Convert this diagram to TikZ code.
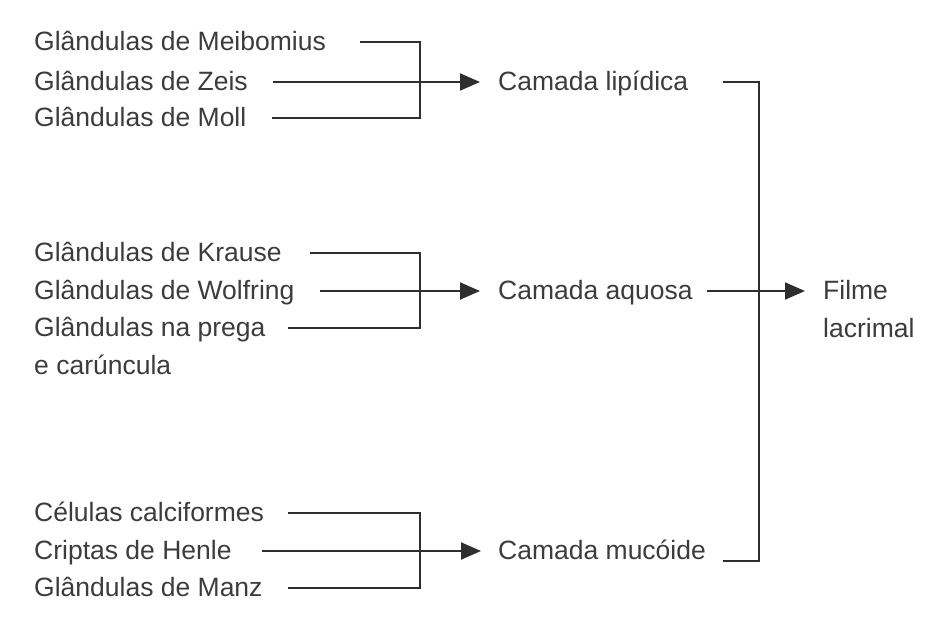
\documentclass[tikz,border=0pt]{standalone}
\usepackage{fontspec}
\setmainfont{Liberation Sans}
\usetikzlibrary{arrows.meta}
\definecolor{txt}{HTML}{3C3C3C}
\definecolor{ink}{HTML}{2E2E2E}
\tikzset{
  lbl/.style={anchor=base west, inner sep=0pt, text=txt, font=\fontsize{26.5}{32}\selectfont},
  ln/.style={draw=ink, line width=2pt},
  arr/.style={ln, -{Triangle[length=20pt,width=17pt]}}
}
\begin{document}
\begin{tikzpicture}[x=1pt,y=-1pt]
\useasboundingbox (0,0) rectangle (940,621);
% sources (baselines)
\node[lbl] (mei) at (34,50) {Glândulas de Meibomius};
\node[lbl] (zei) at (34,90) {Glândulas de Zeis};
\node[lbl] (mol) at (34,126) {Glândulas de Moll};
\node[lbl] (kra) at (34,261) {Glândulas de Krause};
\node[lbl] (wol) at (34,299) {Glândulas de Wolfring};
\node[lbl] (pre) at (34,336) {Glândulas na prega};
\node[lbl] (car) at (34,374) {e carúncula};
\node[lbl] (cel) at (34,521) {Células calciformes};
\node[lbl] (cri) at (34,559) {Criptas de Henle};
\node[lbl] (man) at (34,596) {Glândulas de Manz};
% layers
\node[lbl] (lip) at (498,90) {Camada lipídica};
\node[lbl] (aqu) at (498,299) {Camada aquosa};
\node[lbl] (muc) at (498,559) {Camada mucóide};
\node[lbl] (fil) at (823,299) {Filme};
\node[lbl] (lac) at (823,337) {lacrimal};
% line levels
\coordinate (y1) at (0,42);
\coordinate (y2) at (0,82);
\coordinate (y3) at (0,118);
\coordinate (y4) at (0,253);
\coordinate (y5) at (0,291);
\coordinate (y6) at (0,328);
\coordinate (y7) at (0,513);
\coordinate (y8) at (0,551);
\coordinate (y9) at (0,588);
% junctions
\coordinate (j1) at (420,82);
\coordinate (j2) at (420,291);
\coordinate (j3) at (420,551);
\coordinate (j4) at (759,291);
\coordinate (lipe) at (723,82);
\coordinate (muce) at (723,561);
% top group
\draw[ln, shorten <=34pt] (mei.east |- y1) -| (j1);
\draw[ln, shorten <=25pt] (mol.east |- y3) -| (j1);
\draw[arr, shorten <=25pt, shorten >=18pt] (zei.east |- y2) -- (lip.west |- y2);
% middle group
\draw[ln, shorten <=28pt] (kra.east |- y4) -| (j2);
\draw[ln, shorten <=22pt] (pre.east |- y6) -| (j2);
\draw[arr, shorten <=25pt, shorten >=18pt] (wol.east |- y5) -- (aqu.west |- y5);
% bottom group
\draw[ln, shorten <=24pt] (cel.east |- y7) -| (j3);
\draw[ln, shorten <=25pt] (man.east |- y9) -| (j3);
\draw[arr, shorten <=30pt, shorten >=17pt] (cri.east |- y8) -- (muc.west |- y8);
% right bracket
\draw[ln] (lipe) -| (j4);
\draw[ln] (muce) -| (j4);
\draw[arr, shorten <=14pt, shorten >=18pt] (aqu.east |- y5) -- (fil.west |- y5);
\end{tikzpicture}
\end{document}
